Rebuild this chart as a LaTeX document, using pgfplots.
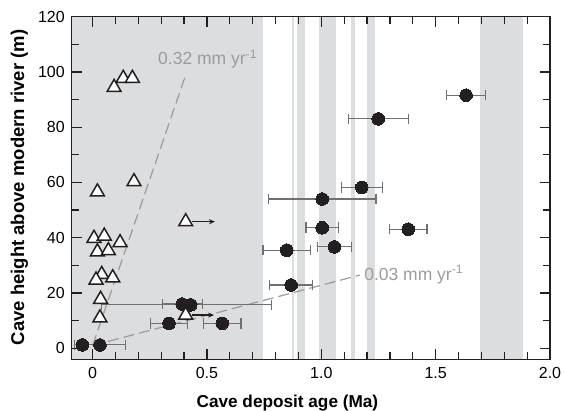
\documentclass[border=0pt]{standalone}
\usepackage{fontspec}
\setmainfont{Liberation Sans}
\usepackage{pgfplots}
\pgfplotsset{compat=1.18}
\usetikzlibrary{arrows.meta}
\definecolor{band}{HTML}{DCDDDE}
\definecolor{ebar}{HTML}{707070}
\definecolor{dashc}{HTML}{9B9B9B}
\definecolor{ink}{HTML}{231F20}
\begin{document}
\begin{tikzpicture}
\useasboundingbox (-71.7pt,-51.7pt) rectangle (492.3pt,359.3pt);
\begin{axis}[
  at={(0pt,0pt)}, anchor=south west,
  scale only axis, width=478.3pt, height=342.6pt,
  xmin=-0.0914, xmax=2.0, ymin=-4, ymax=120,
  axis on top,
  axis line style={ink, line width=1.5pt},
  xtick={0,0.5,1,1.5,2}, xticklabels={0,0.5,1.0,1.5,2.0},
  minor xtick={0.1,0.2,0.3,0.4,0.6,0.7,0.8,0.9,1.1,1.2,1.3,1.4,1.6,1.7,1.8,1.9},
  ytick={0,20,...,120}, minor ytick={10,30,...,110},
  tick align=inside, major tick length=10pt, minor tick length=7pt,
  tick style={ink, line width=1.2pt},
  ticklabel style={font=\fontsize{16}{19}\selectfont},
  /pgf/number format/assume math mode=true,
  yticklabel style={xshift=-3.4pt},
  xticklabel style={yshift=-4.4pt},
  xlabel={Cave deposit age (Ma)},
  ylabel={Cave height above modern river (m)},
  xlabel style={font=\fontsize{17.2}{20}\selectfont\bfseries, at={(axis description cs:0.451,-0.1407)}, anchor=base},
  ylabel style={font=\fontsize{18.5}{21}\selectfont\bfseries, at={(axis description cs:-0.0997,0.5015)}, anchor=base},
]
% shaded bands
\addplot[fill=band, draw=none, forget plot] coordinates {(-0.0914,-4) (0.746,-4) (0.746,120) (-0.0914,120)} -- cycle;
\addplot[fill=band, draw=none, forget plot] coordinates {(0.871,-4) (0.881,-4) (0.881,120) (0.871,120)} -- cycle;
\addplot[fill=band, draw=none, forget plot] coordinates {(0.892,-4) (0.929,-4) (0.929,120) (0.892,120)} -- cycle;
\addplot[fill=band, draw=none, forget plot] coordinates {(0.991,-4) (1.064,-4) (1.064,120) (0.991,120)} -- cycle;
\addplot[fill=band, draw=none, forget plot] coordinates {(1.129,-4) (1.147,-4) (1.147,120) (1.129,120)} -- cycle;
\addplot[fill=band, draw=none, forget plot] coordinates {(1.198,-4) (1.235,-4) (1.235,120) (1.198,120)} -- cycle;
\addplot[fill=band, draw=none, forget plot] coordinates {(1.694,-4) (1.881,-4) (1.881,120) (1.694,120)} -- cycle;
% tick marks on all four sides (inward)
\pgfplotsinvokeforeach{0,0.5,1,1.5,2}{
  \draw[ink, line width=1.2pt] (axis cs:#1,-4) -- ++(0pt,10pt);
  \draw[ink, line width=1.2pt] (axis cs:#1,120) -- ++(0pt,-10pt);
}
\pgfplotsinvokeforeach{0.1,0.2,0.3,0.4,0.6,0.7,0.8,0.9,1.1,1.2,1.3,1.4,1.6,1.7,1.8,1.9}{
  \draw[ink, line width=1.2pt] (axis cs:#1,-4) -- ++(0pt,7pt);
  \draw[ink, line width=1.2pt] (axis cs:#1,120) -- ++(0pt,-7pt);
}
\pgfplotsinvokeforeach{0,20,40,60,80,100,120}{
  \draw[ink, line width=1.2pt] (axis cs:-0.0914,#1) -- ++(10pt,0pt);
  \draw[ink, line width=1.2pt] (axis cs:2,#1) -- ++(-10pt,0pt);
}
\pgfplotsinvokeforeach{10,30,50,70,90,110}{
  \draw[ink, line width=1.2pt] (axis cs:-0.0914,#1) -- ++(7pt,0pt);
  \draw[ink, line width=1.2pt] (axis cs:2,#1) -- ++(-7pt,0pt);
}
% incision-rate lines
\addplot[dashc, line width=1.2pt, dash pattern=on 11pt off 5pt, forget plot] coordinates {(0,1) (0.407,98.9)};
\addplot[dashc, line width=1.2pt, dash pattern=on 11pt off 5pt, forget plot] coordinates {(0,1) (1.169,26.5)};
% dated deposits with age uncertainty
\addplot[only marks, mark=*, mark size=6.3pt, mark options={fill=ink, draw=ink, line width=0pt},
  error bars/.cd, x dir=both, x explicit,
  error bar style={draw=ebar, line width=1.1pt},
  error mark=|,
  error mark options={draw=ebar, line width=1.1pt, mark size=5.3pt}]
coordinates {
  (-0.045,1.2) +- (0,0)
  (0.032,1.2) +- (0.11,0)
  (0.334,9.0) +- (0.081,0)
  (0.567,9.0) +- (0.082,0)
  (0.392,16.0) +- (0.087,0)
  (0.429,15.7) += (0.354,0) -= (0.389,0)
  (0.849,35.5) +- (0.104,0)
  (0.868,22.9) +- (0.094,0)
  (1.004,54.0) +- (0.235,0)
  (1.177,58.2) +- (0.089,0)
  (1.004,43.6) +- (0.071,0)
  (1.057,36.7) +- (0.075,0)
  (1.380,43.1) +- (0.082,0)
  (1.249,83.0) +- (0.131,0)
  (1.633,91.6) +- (0.084,0)
};
% minimum-age deposits
\addplot[ink, line width=1.3pt, -{Stealth[length=6pt,width=5pt]}, forget plot] coordinates {(0.433,45.8) (0.535,45.8)};
\addplot[ink, line width=1.3pt, -{Stealth[length=6pt,width=5pt]}, forget plot] coordinates {(0.433,12.0) (0.531,12.0)};
\addplot[only marks, mark=triangle*, mark size=8pt, mark options={fill=white, draw=ink, line width=1.5pt}]
coordinates {
  (0.094,94.4) (0.134,97.7) (0.174,97.7) (0.181,60.3) (0.021,56.6)
  (0.407,45.8) (0.006,39.8) (0.051,40.6) (0.120,38.2) (0.021,34.9)
  (0.069,35.3) (0.040,26.7) (0.015,24.7) (0.088,25.5) (0.035,17.7)
  (0.032,11.0) (0.407,12.0)
};
\node[anchor=west, inner sep=0pt, text=dashc, font=\fontsize{17.5}{20}\selectfont] at (axis cs:0.286,104.6) {0.32 mm yr\textsuperscript{-1}};
\node[anchor=west, inner sep=0pt, text=dashc, font=\fontsize{17.5}{20}\selectfont] at (axis cs:1.187,26.7) {0.03 mm yr\textsuperscript{-1}};
\end{axis}
\end{tikzpicture}
\end{document}
